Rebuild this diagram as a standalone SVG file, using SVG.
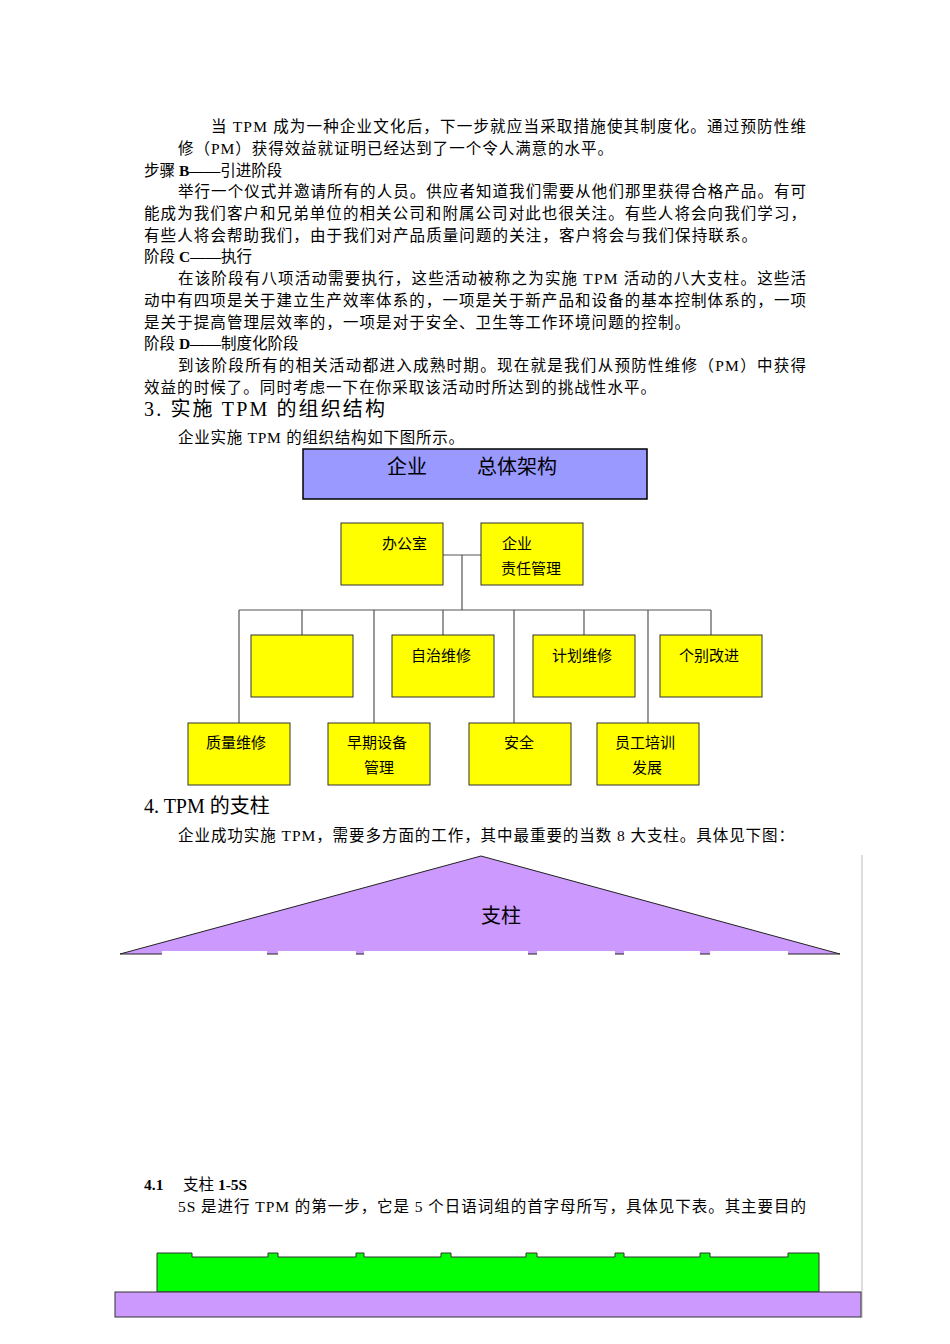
<svg xmlns="http://www.w3.org/2000/svg" width="950" height="1344" viewBox="0 0 950 1344">
<style>
.t{font-family:"Liberation Serif","Noto Sans CJK SC",serif;font-size:15.5px;fill:#000}
.h{font-family:"Liberation Serif","Noto Sans CJK SC",serif;font-size:20px;fill:#000}
.n{fill:#ffff00;stroke:#333;stroke-width:1}
.l{font-family:"Noto Sans CJK SC",sans-serif;font-size:15px;fill:#000}
.c{stroke:#555;stroke-width:1.2;fill:none}
</style>
<rect width="950" height="1344" fill="#fff"/>
<g id="text">
<text class="t" x="211" y="132" textLength="595" lengthAdjust="spacing">当 TPM 成为一种企业文化后，下一步就应当采取措施使其制度化。通过预防性维</text>
<text class="t" x="178" y="154" textLength="435" lengthAdjust="spacing">修（PM）获得效益就证明已经达到了一个令人满意的水平。</text>
<text class="t" x="144" y="176">步骤 <tspan font-weight="bold">B——</tspan>引进阶段</text>
<text class="t" x="178" y="197" textLength="628" lengthAdjust="spacing">举行一个仪式并邀请所有的人员。供应者知道我们需要从他们那里获得合格产品。有可</text>
<text class="t" x="144" y="219" textLength="662" lengthAdjust="spacing">能成为我们客户和兄弟单位的相关公司和附属公司对此也很关注。有些人将会向我们学习，</text>
<text class="t" x="144" y="241" textLength="613" lengthAdjust="spacing">有些人将会帮助我们，由于我们对产品质量问题的关注，客户将会与我们保持联系。</text>
<text class="t" x="144" y="262">阶段 <tspan font-weight="bold">C——</tspan>执行</text>
<text class="t" x="178" y="284" textLength="628" lengthAdjust="spacing">在该阶段有八项活动需要执行，这些活动被称之为实施 TPM 活动的八大支柱。这些活</text>
<text class="t" x="144" y="306" textLength="662" lengthAdjust="spacing">动中有四项是关于建立生产效率体系的，一项是关于新产品和设备的基本控制体系的，一项</text>
<text class="t" x="144" y="328" textLength="546" lengthAdjust="spacing">是关于提高管理层效率的，一项是对于安全、卫生等工作环境问题的控制。</text>
<text class="t" x="144" y="349">阶段 <tspan font-weight="bold">D——</tspan>制度化阶段</text>
<text class="t" x="178" y="371" textLength="628" lengthAdjust="spacing">到该阶段所有的相关活动都进入成熟时期。现在就是我们从预防性维修（PM）中获得</text>
<text class="t" x="144" y="393" textLength="512" lengthAdjust="spacing">效益的时候了。同时考虑一下在你采取该活动时所达到的挑战性水平。</text>
<text class="h" x="144" y="416" textLength="241" lengthAdjust="spacing">3. 实施 TPM 的组织结构</text>
<text class="t" x="178" y="443" textLength="286" lengthAdjust="spacing">企业实施 TPM 的组织结构如下图所示。</text>
<text class="h" x="144" y="813">4. TPM 的支柱</text>
<text class="t" x="178" y="841" textLength="616" lengthAdjust="spacing">企业成功实施 TPM，需要多方面的工作，其中最重要的当数 8 大支柱。具体见下图：</text>
<text class="t" x="144" y="1190" font-weight="bold">4.1</text>
<text class="t" x="183" y="1190">支柱 <tspan font-weight="bold">1-5S</tspan></text>
<text class="t" x="178" y="1212" textLength="628" lengthAdjust="spacing">5S 是进行 TPM 的第一步，它是 5 个日语词组的首字母所写，具体见下表。其主要目的</text>
</g>
<g id="connectors">
<path class="c" d="M443 555H481M462 555V610M239 610H711M239 610V723M302 610V635M374 610V723M443 610V635M514 610V723M584 610V635M648 610V723M711 610V635"/>
</g>
<g id="top"><rect x="303" y="449" width="344" height="50" fill="#9999ff" stroke="#000" stroke-width="1.5"/>
<text x="387" y="474" font-family="Noto Sans CJK SC,sans-serif" font-size="20" fill="#000">企业</text>
<text x="477" y="474" font-family="Noto Sans CJK SC,sans-serif" font-size="20" fill="#000">总体架构</text></g>
<g id="office"><rect class="n" x="341" y="523" width="102" height="62"/><text class="l" x="382" y="549">办公室</text></g>
<g id="resp"><rect class="n" x="481" y="523" width="102" height="62"/><text class="l" x="502" y="549">企业</text><text class="l" x="501" y="574">责任管理</text></g>
<g id="blank"><rect class="n" x="251" y="635" width="102" height="62"/></g>
<g id="auto"><rect class="n" x="392" y="635" width="102" height="62"/><text class="l" x="411" y="661">自治维修</text></g>
<g id="plan"><rect class="n" x="533" y="635" width="102" height="62"/><text class="l" x="552" y="661">计划维修</text></g>
<g id="indiv"><rect class="n" x="660" y="635" width="102" height="62"/><text class="l" x="679" y="661">个别改进</text></g>
<g id="quality"><rect class="n" x="188" y="723" width="102" height="62"/><text class="l" x="206" y="748">质量维修</text></g>
<g id="early"><rect class="n" x="328" y="723" width="102" height="62"/><text class="l" x="347" y="748">早期设备</text><text class="l" x="364" y="773">管理</text></g>
<g id="safe"><rect class="n" x="469" y="723" width="102" height="62"/><text class="l" x="504" y="748">安全</text></g>
<g id="train"><rect class="n" x="597" y="723" width="102" height="62"/><text class="l" x="615" y="748">员工培训</text><text class="l" x="632" y="773">发展</text></g>
<g id="roof">
<polygon points="120,954 481,856 840,954" fill="#cc99ff" stroke="#222" stroke-width="1"/>
<g fill="#fff"><rect x="162" y="951" width="105" height="5"/><rect x="278" y="951" width="78" height="5"/><rect x="364" y="951" width="164" height="5"/><rect x="537" y="951" width="78" height="5"/><rect x="624" y="951" width="76" height="5"/><rect x="710" y="951" width="78" height="5"/></g>
<text x="501" y="923" text-anchor="middle" font-family="Noto Sans CJK SC,sans-serif" font-size="20" fill="#000">支柱</text>
</g>
<line x1="862" y1="855" x2="862" y2="1318" stroke="#bbb" stroke-width="1"/>
<g id="base">
<path d="M157 1253H192V1257H268V1253H278V1257H356V1253H364V1257H441V1253H451V1257H526V1253H537V1257H615V1253H624V1257H700V1253H710V1257H788V1253H819V1292H157Z" fill="#00ff00" stroke="#333" stroke-width="1"/>
<rect x="115" y="1292" width="746" height="25" fill="#cc99ff" stroke="#333" stroke-width="1"/>
</g>
</svg>
